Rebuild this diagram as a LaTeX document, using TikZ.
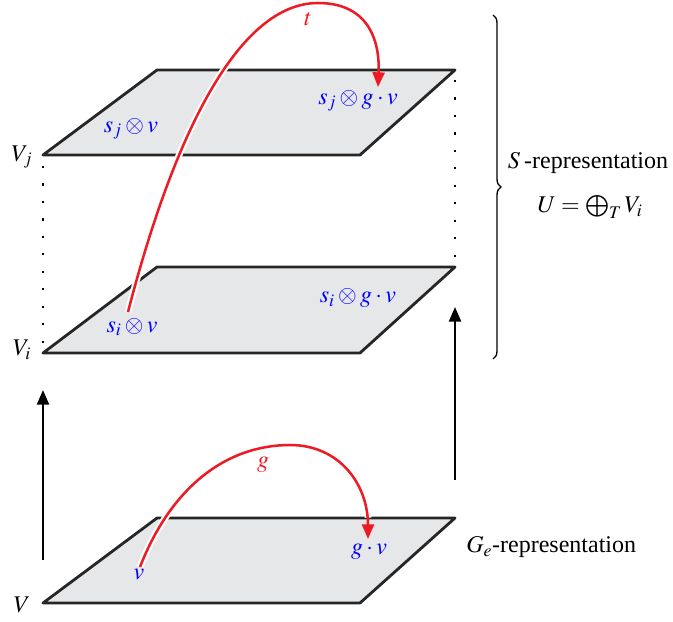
\documentclass[tikz,border=0pt]{standalone}
\usepackage{mathptmx}
\usepackage{fontspec}
\setmainfont{Liberation Serif}
\usetikzlibrary{arrows.meta,decorations.pathreplacing}
\definecolor{planegray}{RGB}{230,231,232}
\definecolor{arrred}{RGB}{237,28,36}
\tikzset{
  plane/.style={draw=black!85, line width=2.1pt, fill=planegray, line join=round},
  dotline/.style={line width=1.6pt, dash pattern=on 1.6pt off 11.5pt},
  uparrow/.style={line width=1.8pt, -{Triangle[length=11pt,width=9pt]}},
  redarc/.style={draw=arrred, line width=1.9pt, -{Triangle[length=11pt,width=9pt]}},
  halo/.style={draw=white, line width=5pt, shorten >=16pt},
  lbl/.style={font=\fontsize{18}{21}\selectfont, inner sep=0pt},
  bluelbl/.style={lbl, text=blue},
  redlbl/.style={lbl, text=arrred}
}
\begin{document}
\begin{tikzpicture}[x=0.75pt,y=-0.75pt]
\useasboundingbox (0,0) rectangle (673,621);
% planes
\draw[plane] (43,155) -- (360,155) -- (455,70) -- (157,70) -- cycle;
\draw[plane] (43,353) -- (360,353) -- (455,267) -- (157,267) -- cycle;
\draw[plane] (43,603) -- (360,603) -- (455,518) -- (157,518) -- cycle;
% dotted links
\coordinate (jl) at (43,166);
\coordinate (il) at (43,345);
\coordinate (jr) at (455,80);
\coordinate (ir) at (455,262);
\draw[dotline] (jl) -- (il);
\draw[dotline] (jr) -- (ir);
% up arrows
\coordinate (la0) at (43,560);
\coordinate (la1) at (43,390);
\coordinate (ra0) at (455,480);
\coordinate (ra1) at (455,307);
\draw[uparrow] (la0) -- (la1);
\draw[uparrow] (ra0) -- (ra1);
% labels
\node[lbl] (Vj) at (22,157) {$V_j$};
\node[lbl] (Vi) at (22,350) {$V_i$};
\node[lbl] (V) at (22,605) {$V$};
\node[bluelbl] (sjv) at (131,129) {$s_j\otimes v$};
\node[bluelbl] (sjgv) at (358,101) {$s_j\otimes g\cdot v$};
\node[bluelbl] (siv) at (132,327) {$s_i\otimes v$};
\node[bluelbl] (sigv) at (358,298) {$s_i\otimes g\cdot v$};
\node[bluelbl] (v) at (139,574) {$v$};
\node[bluelbl] (gv) at (369,552) {$g\cdot v$};
\node[lbl, anchor=west] (Ge) at (466,547) {$G_e$-representation};
\node[lbl] (Srep) at (588,163) {$S$\,-representation};
\node[lbl] (U) at (590,207) {$U=\bigoplus_T V_i$};
% brace
\coordinate (b0) at (493,15);
\coordinate (b1) at (493,359);
\draw[line width=1pt, decorate, decoration={brace, amplitude=6pt}] (b0) -- (b1);
% red arcs
\coordinate (t0) at (128,312);
\coordinate (t1) at (378,87);
\draw[halo] (t0) .. controls (175,130) and (240,3) .. (318,3) .. controls (368,3) and (380,40) .. (t1);
\draw[redarc] (t0) .. controls (175,130) and (240,3) .. (318,3) .. controls (368,3) and (380,40) .. (t1);
\node[redlbl] (tl) at (308,19) {$t$};
\coordinate (g0) at (140,567);
\coordinate (g1) at (368,539);
\draw[halo] (g0) .. controls (172,485) and (228,445) .. (290,445) .. controls (340,445) and (368,485) .. (g1);
\draw[redarc] (g0) .. controls (172,485) and (228,445) .. (290,445) .. controls (340,445) and (368,485) .. (g1);
\node[redlbl] (gl) at (263,465) {$g$};
\end{tikzpicture}
\end{document}
